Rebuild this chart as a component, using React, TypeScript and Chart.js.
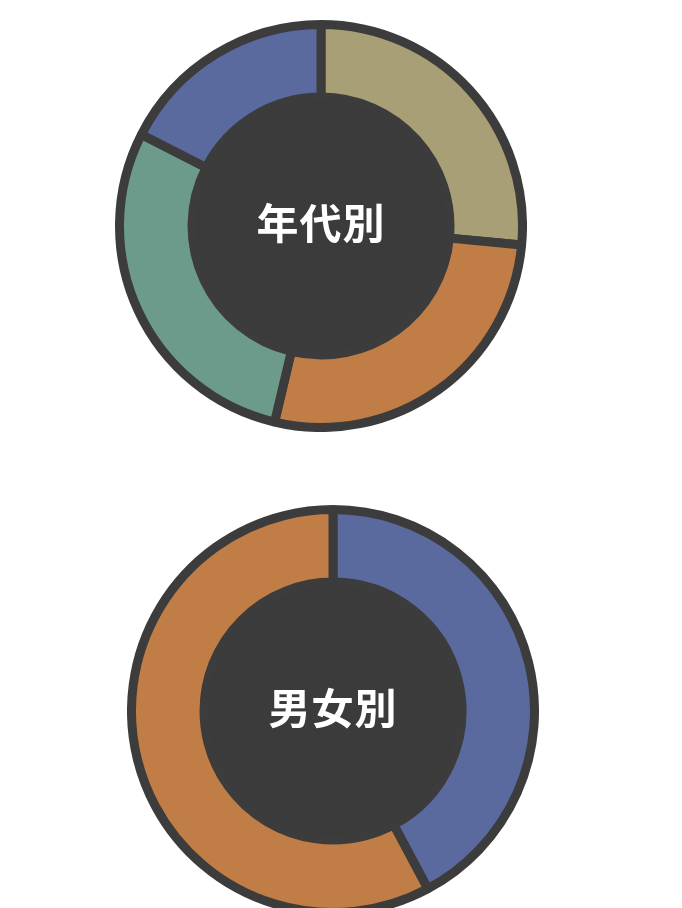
import { FC, useEffect, useRef } from 'react';
import { Chart, registerables, Plugin } from 'chart.js';

Chart.register(...registerables);

// 年代別
const ageLabels = ['20代', '30代', '40代', '50代以上'];
const ageValues = [26.5, 27.2, 28.8, 17.5];
const ageColors = ['#a99f76', '#c17d46', '#6d9b8b', '#5a699e'];

// 男女別
const genderLabels = ['男性', '女性'];
const genderValues = [42.2, 57.8];
const genderColors = ['#5a699e', '#c17d46'];

const BORDER = '#3c3c3c';
const CENTER = '#3b3b3b';

// fills the hole of the doughnut with a dark disc
const centerFill: Plugin<'doughnut'> = {
  id: 'centerFill',
  beforeDatasetsDraw(chart) {
    const arc: any = chart.getDatasetMeta(0).data[0];
    if (!arc) return;
    const { x, y, innerRadius } = arc;
    const ctx = chart.ctx;
    ctx.save();
    ctx.fillStyle = CENTER;
    ctx.beginPath();
    ctx.arc(x, y, innerRadius, 0, Math.PI * 2);
    ctx.fill();
    ctx.restore();
  },
};

interface RingProps {
  title: string;
  labels: string[];
  values: number[];
  colors: string[];
  left: number;
  top: number;
  size: number;
}

const Ring: FC<RingProps> = ({ title, labels, values, colors, left, top, size }) => {
  const chartRef = useRef<HTMLCanvasElement>(null);
  const chartInstance = useRef<Chart | null>(null);

  useEffect(() => {
    const ctx = chartRef.current?.getContext('2d');
    if (!ctx) return;
    if (chartInstance.current) chartInstance.current.destroy();

    chartInstance.current = new Chart(ctx, {
      type: 'doughnut',
      data: {
        labels,
        datasets: [
          {
            data: values,
            backgroundColor: colors,
            borderColor: BORDER,
            borderWidth: 9,
            hoverOffset: 0,
          },
        ],
      },
      options: {
        responsive: true,
        maintainAspectRatio: false,
        animation: false,
        cutout: '64%',
        plugins: {
          legend: { display: false },
          tooltip: { enabled: false },
        },
      },
      plugins: [centerFill],
    });

    return () => {
      if (chartInstance.current) {
        chartInstance.current.destroy();
        chartInstance.current = null;
      }
    };
  }, [labels, values, colors]);

  return (
    <div style={{ position: 'absolute', left, top, width: size, height: size }}>
      <canvas ref={chartRef}></canvas>
      <div
        style={{
          position: 'absolute',
          left: 0,
          top: -6,
          width: size,
          height: size,
          display: 'flex',
          alignItems: 'center',
          justifyContent: 'center',
          color: '#ffffff',
          fontFamily: '"Noto Sans CJK JP", "Noto Sans", sans-serif',
          fontWeight: 700,
          fontSize: 42,
          letterSpacing: 1,
          pointerEvents: 'none',
        }}
      >
        {title}
      </div>
    </div>
  );
};

const App: FC = () => {
  return (
    <div style={{ position: 'relative', width: 666, height: 920 }}>
      <Ring title="年代別" labels={ageLabels} values={ageValues} colors={ageColors} left={107} top={12} size={412} />
      <Ring title="男女別" labels={genderLabels} values={genderValues} colors={genderColors} left={119} top={497} size={412} />
    </div>
  );
};

export default App;
